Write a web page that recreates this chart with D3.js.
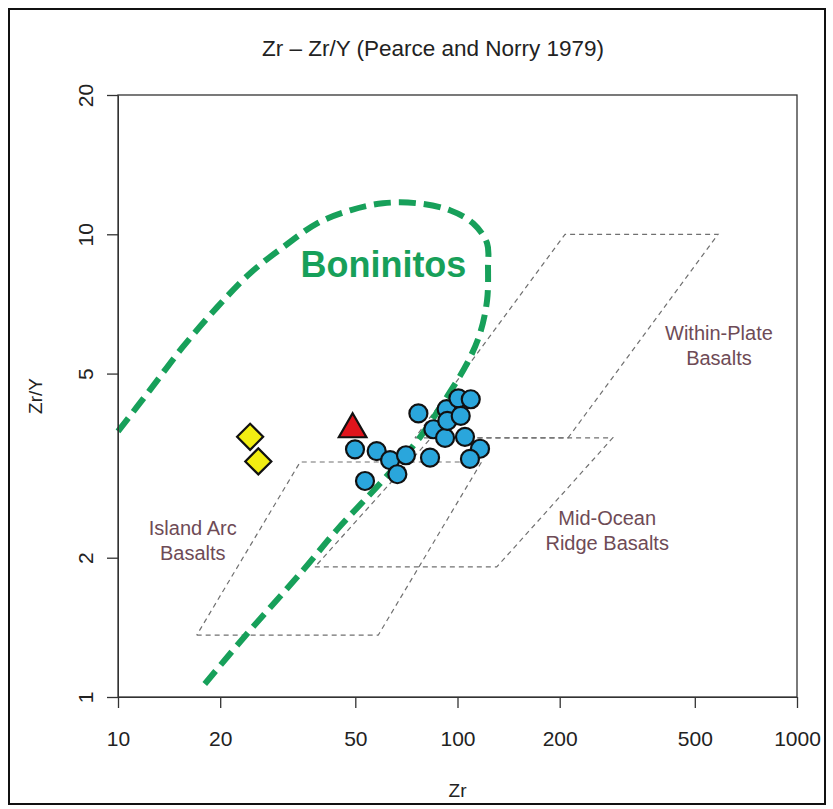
<!DOCTYPE html>
<html>
<head>
<meta charset="utf-8">
<script src="https://cdn.jsdelivr.net/npm/d3@7"></script>
<style>
  html, body { margin: 0; padding: 0; background: #fff; }
  svg { display: block; font-family: "Liberation Sans", Arial, Helvetica, sans-serif; }
</style>
</head>
<body>
<svg id="chart" width="833" height="809"></svg>
<script>
// ---------- data ----------
const xTicks = [10, 20, 50, 100, 200, 500, 1000];
const yTicks = [1, 2, 5, 10, 20];

// Samples (Zr ppm, Zr/Y)
const circleZr  = [49.9, 57.8, 63.3, 70.5, 66.5, 53.4, 76.7, 84.9, 83.0, 91.9, 92.9, 93.3, 100.6, 109.4, 102.2, 105.2, 116.5, 108.8];
const circleZrY = [3.43, 3.40, 3.25, 3.33, 3.03, 2.93, 4.10, 3.79, 3.29, 3.63, 4.19, 3.95, 4.42, 4.40, 4.05, 3.65, 3.44, 3.27];
const diamondZr  = [24.5, 25.9];
const diamondZrY = [3.65, 3.23];
const triangleZr  = [49.1];
const triangleZrY = [3.79];

// Boninite field boundary (dashed green)
const boniniteZr  = [10, 12.4, 15.5, 19.6, 24.5, 30.6, 38.6, 48.3, 60.3, 76.0, 95.0, 111.1, 122.2, 123.0, 122.2, 116.5, 106.7, 90.6, 77.5, 60.3, 44.2, 35.1, 24.0, 17.4];
const boniniteZrY = [3.75, 4.60, 5.70, 6.96, 8.24, 9.37, 10.56, 11.27, 11.67, 11.67, 11.27, 10.56, 9.56, 8.49, 7.20, 6.11, 5.26, 4.32, 3.64, 2.94, 2.30, 1.88, 1.37, 1.035];

// Discrimination fields (Pearce & Norry 1979)
const iabZr  = [17.05, 58.4, 117.7, 34.4, 17.05];
const iabZrY = [1.36, 1.36, 3.22, 3.22, 1.36];
const morbZr  = [38.0, 130.5, 286.5, 83.6, 38.0];
const morbZrY = [1.91, 1.91, 3.63, 3.63, 1.91];
const wpbZr  = [74.9, 211.6, 585.4, 207.4, 74.9];
const wpbZrY = [3.63, 3.63, 10.0, 10.0, 3.63];

const fieldLabels = [
  { lines: ["Island Arc", "Basalts"], zr: 16.6, zry: 2.24 },
  { lines: ["Mid-Ocean", "Ridge Basalts"], zr: 276, zry: 2.35 },
  { lines: ["Within-Plate", "Basalts"], zr: 589, zry: 5.90 }
];
const boniniteLabel = { text: "Boninitos", zr: 60.5, zry: 8.08 };

// ---------- layout ----------
const svg = d3.select("#chart");
const L = 118, R = 797, T = 95, B = 697;
const x = d3.scaleLog().domain([10, 1000]).range([L, R]);
const y = d3.scaleLog().domain([1, 20]).range([B, T]);

// outer frame
svg.append("rect").attr("x", 9).attr("y", 9).attr("width", 816).attr("height", 795)
  .attr("fill", "#fff").attr("stroke", "#111").attr("stroke-width", 2);

// title
svg.append("text").attr("x", 433).attr("y", 56).attr("text-anchor", "middle")
  .attr("font-size", 22.5).attr("fill", "#222")
  .text("Zr \u2013 Zr/Y (Pearce and Norry 1979)");

// fields
const line = d3.line().x(d => x(d[0])).y(d => y(d[1]));
const fields = [[iabZr, iabZrY], [morbZr, morbZrY], [wpbZr, wpbZrY]];
fields.forEach(([zx, zy]) => {
  svg.append("path").attr("d", line(zx.map((v, i) => [v, zy[i]])))
    .attr("fill", "none").attr("stroke", "#707070").attr("stroke-width", 1.2)
    .attr("stroke-dasharray", "5,4");
});

// field labels
fieldLabels.forEach(f => {
  const t = svg.append("text").attr("text-anchor", "middle").attr("font-size", 20)
    .attr("fill", "#6e4b56");
  f.lines.forEach((s, i) => {
    t.append("tspan").attr("x", x(f.zr)).attr("y", y(f.zry) + i * 25).text(s);
  });
});

// boninite curve
const curve = d3.line().x(d => x(d[0])).y(d => y(d[1])).curve(d3.curveCatmullRom.alpha(0.5));
svg.append("path").attr("d", curve(boniniteZr.map((v, i) => [v, boniniteZrY[i]])))
  .attr("fill", "none").attr("stroke", "#17a05a").attr("stroke-width", 6)
  .attr("stroke-dasharray", "17,8");

svg.append("text").attr("x", x(boniniteLabel.zr)).attr("y", y(boniniteLabel.zry))
  .attr("text-anchor", "middle").attr("font-size", 36).attr("font-weight", "bold")
  .attr("fill", "#17a05a").text(boniniteLabel.text);

// axes
const xAxis = svg.append("g").attr("transform", `translate(0,${B})`)
  .call(d3.axisBottom(x).tickValues(xTicks).tickFormat(d3.format("d")).tickSize(11).tickSizeOuter(0));
xAxis.selectAll("text").attr("font-size", 21).attr("fill", "#222").attr("y", 34)
  .attr("font-family", "Liberation Sans, Arial, sans-serif");

const yAxis = svg.append("g").attr("transform", `translate(${L},0)`)
  .call(d3.axisLeft(y).tickValues(yTicks).tickFormat(d3.format("d")).tickSize(11).tickSizeOuter(0));
yAxis.selectAll("text").attr("font-size", 21).attr("fill", "#222")
  .attr("font-family", "Liberation Sans, Arial, sans-serif")
  .attr("transform", "rotate(-90)").attr("x", 0).attr("y", -25).attr("dy", 0)
  .attr("text-anchor", "middle");
svg.selectAll(".domain").attr("stroke", "#333");
svg.selectAll(".tick line").attr("stroke", "#333").attr("stroke-width", 1.3);

// box
svg.append("rect").attr("x", L).attr("y", T).attr("width", R - L).attr("height", B - T)
  .attr("fill", "none").attr("stroke", "#333").attr("stroke-width", 1.3);

// axis titles
svg.append("text").attr("x", (L + R) / 2).attr("y", 797).attr("text-anchor", "middle")
  .attr("font-size", 19).attr("fill", "#222").text("Zr");
svg.append("text").attr("transform", `translate(42,${(T + B) / 2}) rotate(-90)`)
  .attr("text-anchor", "middle").attr("font-size", 19).attr("fill", "#222").text("Zr/Y");

// points
svg.append("g").selectAll("path.dia").data(diamondZr.map((v, i) => [v, diamondZrY[i]]))
  .join("path").attr("transform", d => `translate(${x(d[0])},${y(d[1])}) rotate(45)`)
  .attr("d", d3.symbol().type(d3.symbolSquare).size(340))
  .attr("fill", "#f2ee12").attr("stroke", "#111").attr("stroke-width", 2.2);

svg.append("g").selectAll("circle").data(circleZr.map((v, i) => [v, circleZrY[i]]))
  .join("circle").attr("cx", d => x(d[0])).attr("cy", d => y(d[1])).attr("r", 9)
  .attr("fill", "#2aa6dc").attr("stroke", "#111").attr("stroke-width", 2.2);

svg.append("g").selectAll("path.tri").data(triangleZr.map((v, i) => [v, triangleZrY[i]]))
  .join("path").attr("transform", d => `translate(${x(d[0])},${y(d[1])})`)
  .attr("d", d3.symbol().type(d3.symbolTriangle).size(330))
  .attr("fill", "#e0141c").attr("stroke", "#111").attr("stroke-width", 2.2);
</script>
</body>
</html>
